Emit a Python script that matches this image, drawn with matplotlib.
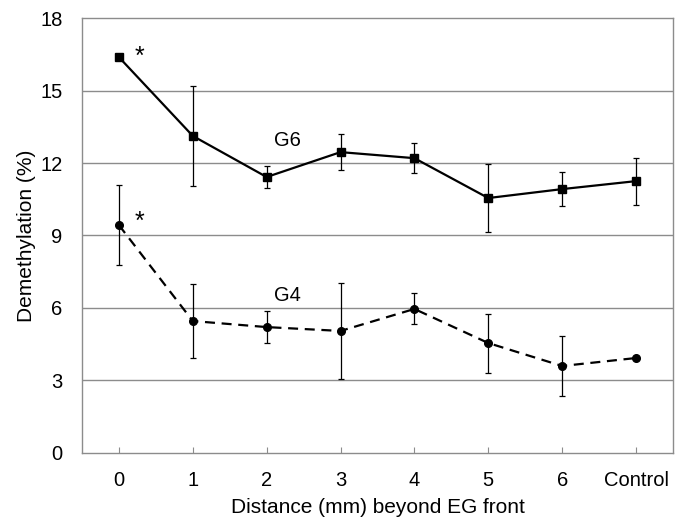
import numpy as np
import matplotlib
matplotlib.use("Agg")
import matplotlib.pyplot as plt

plt.rcParams['font.family'] = ['Liberation Sans', 'DejaVu Sans']

categories = ["0", "1", "2", "3", "4", "5", "6", "Control"]
g6_mean = [16.38, 13.12, 11.42, 12.45, 12.20, 10.55, 10.92, 11.25]
g6_err = [0.0, 2.07, 0.44, 0.75, 0.63, 1.39, 0.69, 0.97]
g4_mean = [9.43, 5.46, 5.21, 5.05, 5.96, 4.55, 3.60, 3.93]
g4_err = [1.65, 1.53, 0.67, 1.97, 0.64, 1.22, 1.26, 0.0]

x = np.arange(len(categories))

fig = plt.figure(figsize=(6.86, 5.19), dpi=100)
ax = fig.add_axes([0.1195, 0.1272, 0.8615, 0.8381])

for yv in [3, 6, 9, 12, 15]:
    ax.axhline(yv, color="#8c8c8c", lw=1.0, zorder=0)

ax.errorbar(x, g6_mean, yerr=g6_err, color="black", lw=1.6, marker="s", ms=5.5,
            ecolor="black", elinewidth=0.9, capsize=2.5, capthick=0.9, zorder=3)
ax.errorbar(x, g4_mean, yerr=g4_err, color="black", lw=1.6, ls=(0, (4.5, 3)), marker="o", ms=5.5,
            ecolor="black", elinewidth=0.9, capsize=2.5, capthick=0.9, zorder=3)

ax.text(2.28, 12.95, "G6", fontsize=14.5, ha="center", va="center")
ax.text(2.28, 6.5, "G4", fontsize=14.5, ha="center", va="center")
ax.text(0.28, 16.4, "*", fontsize=18, ha="center", va="center")
ax.text(0.28, 9.55, "*", fontsize=18, ha="center", va="center")

ax.set_xlim(-0.5, 7.5)
ax.set_ylim(0, 18)
ax.set_yticks([0, 3, 6, 9, 12, 15, 18])
ax.set_xticks(x)
ax.set_xticklabels(categories)
ax.tick_params(axis="x", direction="in", length=4, width=0.8, color="#8c8c8c", labelsize=14.5, pad=13)
ax.tick_params(axis="y", length=0, labelsize=14.5, pad=14)
for s in ax.spines.values():
    s.set_color("#8c8c8c")
    s.set_linewidth(1.0)

ax.set_xlabel("Distance (mm) beyond EG front", fontsize=15, labelpad=6)
ax.set_ylabel("Demethylation (%)", fontsize=15)
ax.yaxis.set_label_coords(-0.078, 0.5)

fig.savefig("out.png", dpi=100)
